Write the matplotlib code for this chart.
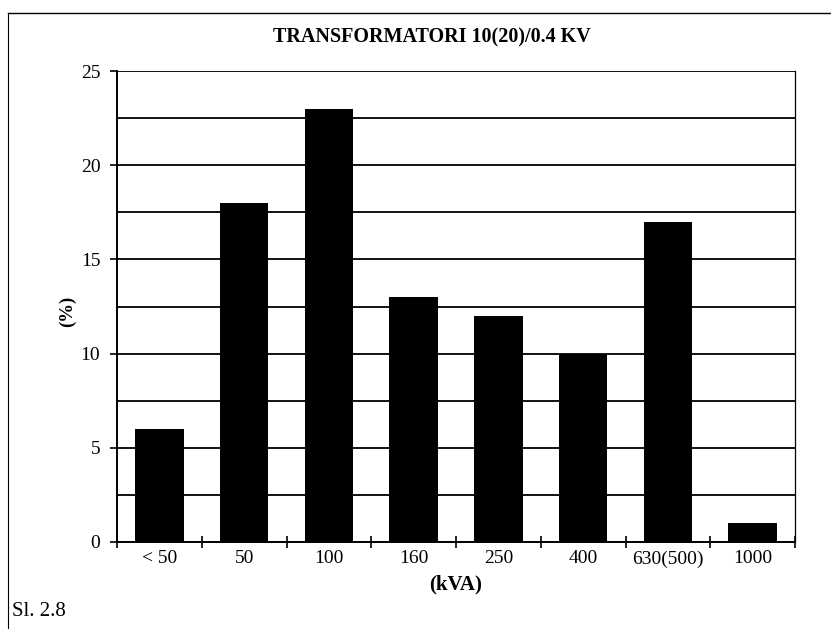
import matplotlib
matplotlib.use("Agg")
import matplotlib.pyplot as plt
from matplotlib.lines import Line2D

categories = ["< 50", "50", "100", "160", "250", "400", "630(500)", "1000"]
values = [6, 18, 23, 13, 12, 10, 17, 1]
yticks = [0, 5, 10, 15, 20, 25]

plt.rcParams['font.family'] = ['Liberation Serif', 'DejaVu Serif']

fig = plt.figure(figsize=(8.31, 6.29), dpi=100)
ax = fig.add_axes([117/831, 1-542/629, (795-117)/831, (542-71)/629])

x = list(range(len(categories)))
ax.bar(x, values, width=0.57, color='black', zorder=3)
ax.set_xlim(-0.5, len(categories)-0.5)
ax.set_ylim(0, 25)
ax.set_yticks(yticks)
ax.set_yticks([2.5 + 5*i for i in range(5)], minor=True)
ax.yaxis.grid(True, which='both', color='black', linewidth=1.3, zorder=1)
ax.set_xticks([i + 0.5 for i in range(-1, len(categories))])
ax.set_xticklabels([])
ax.set_xticks(x, minor=True)
ax.set_xticklabels(categories, minor=True, fontsize=14)
ax.tick_params(axis='x', which='major', direction='inout', length=9, width=1.2)
ax.tick_params(axis='x', which='minor', length=0, pad=6)
ax.tick_params(axis='y', which='major', direction='out', length=5, width=1.2, labelsize=14, pad=7)
ax.tick_params(axis='y', which='minor', length=0)
for s in ['left', 'bottom']:
    ax.spines[s].set_linewidth(1.4)
ax.spines['right'].set_linewidth(0.9)
ax.spines['top'].set_visible(False)

fig.text(67/831, 1-311/629, "(%)", ha='center', va='center', rotation=90,
         fontsize=13.5, fontweight='bold')
fig.text(456/831, 1-584/629, "(kVA)", ha='center', va='center',
         fontsize=15, fontweight='bold')
fig.text(432/831, 1-37/629, "TRANSFORMATORI 10(20)/0.4 KV", ha='center', va='center',
         fontsize=14.5, fontweight='bold')
fig.text(12/831, 1-612/629, "Sl. 2.8", ha='left', va='center', fontsize=15)

fig.add_artist(Line2D([8/831, 1], [1-13/629, 1-13/629], color='black', linewidth=1.0, transform=fig.transFigure))
fig.add_artist(Line2D([8/831, 8/831], [0, 1-13/629], color='black', linewidth=0.8, transform=fig.transFigure))

fig.savefig("out.png", dpi=100)
